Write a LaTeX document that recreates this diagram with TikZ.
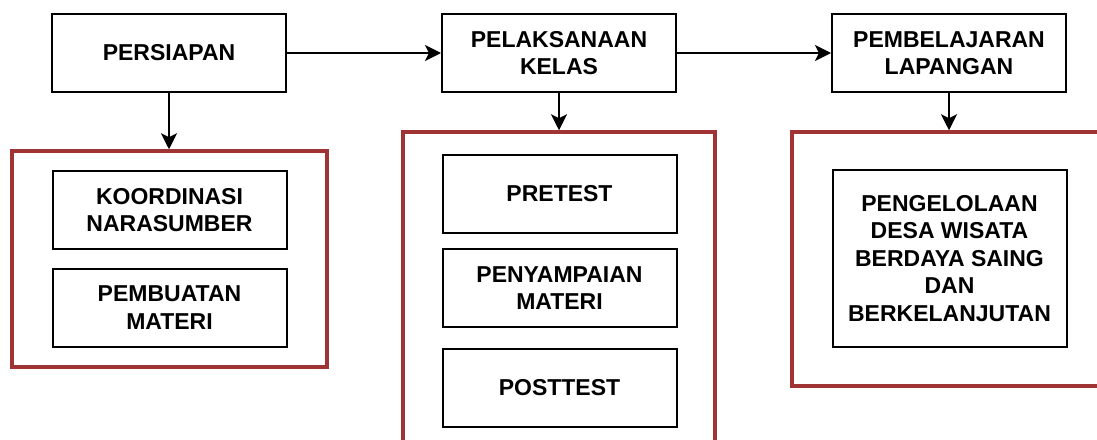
\documentclass[tikz,border=0pt]{standalone}
\usepackage{fontspec}
\setmainfont{Liberation Sans}
\usetikzlibrary{arrows.meta}

\definecolor{framered}{RGB}{160,52,52}

\tikzset{
  stage/.style={draw=black, line width=2pt, fill=white, align=center,
    minimum width=234pt, minimum height=78pt, inner sep=0pt,
    font=\fontsize{23}{27.5}\selectfont\bfseries},
  frame/.style={draw=framered, line width=3.5pt, inner sep=0pt},
  flow/.style={line width=2pt, -{Stealth[length=16pt,width=16pt,inset=4pt]}}
}

\begin{document}
\begin{tikzpicture}[x=1pt, y=-1pt]
  \useasboundingbox (0,0) rectangle (1097,439);
  \clip (0,0) rectangle (1097,439);

  % red frames
  \node[frame, minimum width=315pt, minimum height=216pt] (frame1) at (169.5,259) {};
  \node[frame, minimum width=312pt, minimum height=338pt] (frame2) at (559,301) {};
  \node[frame, minimum width=318pt, minimum height=254pt] (frame3) at (951,259) {};

  % main stages
  \node[stage] (persiapan) at (169,53) {PERSIAPAN};
  \node[stage] (pelaksanaan) at (559,53) {PELAKSANAAN\\KELAS};
  \node[stage] (pembelajaran) at (949,53) {PEMBELAJARAN\\LAPANGAN};

  % sub steps
  \node[stage] (koordinasi) at (169.5,210) {KOORDINASI\\NARASUMBER};
  \node[stage] (pembuatan) at (169.5,307.5) {PEMBUATAN\\MATERI};
  \node[stage] (pretest) at (559.5,194) {PRETEST};
  \node[stage] (penyampaian) at (559.5,288) {PENYAMPAIAN\\MATERI};
  \node[stage] (posttest) at (559.5,387.5) {POSTTEST};
  \node[stage, minimum height=177pt] (pengelolaan) at (949.5,258.5)
    {PENGELOLAAN\\DESA WISATA\\BERDAYA SAING\\DAN\\BERKELANJUTAN};

  \draw[flow] (persiapan) -- (pelaksanaan);
  \draw[flow] (pelaksanaan) -- (pembelajaran);
  \draw[flow] (persiapan.south) -- (persiapan.south |- frame1.north);
  \draw[flow] (pelaksanaan.south) -- (pelaksanaan.south |- frame2.north);
  \draw[flow] (pembelajaran.south) -- (pembelajaran.south |- frame3.north);
\end{tikzpicture}
\end{document}
